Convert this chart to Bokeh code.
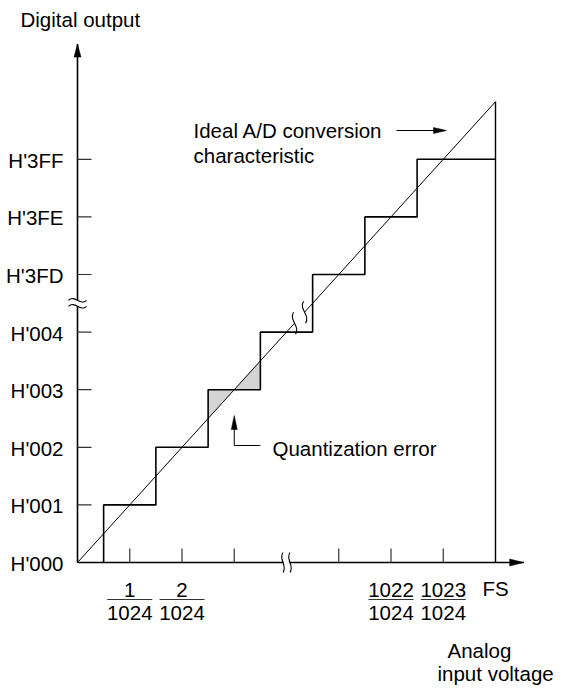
from bokeh.plotting import figure
from bokeh.models import Range1d
from bokeh.core.properties import value
from bokeh.embed import file_html
from bokeh.resources import INLINE

# ---------------- data ----------------
y_codes = ["H'000", "H'001", "H'002", "H'003", "H'004", "H'3FD", "H'3FE", "H'3FF"]
y_levels = [0, 1, 2, 3, 4, 5, 6, 7]
step_edges = [0.5, 1.5, 2.5, 3.5, 4.5, 5.5, 6.5]   # input where output code increments
x_ticks = [1, 2, 3, 5, 6, 7]
x_label_pos = [1, 2, 6, 7]
x_numerators = ["1", "2", "1022", "1023"]
x_denominator = "1024"
fs_pos = 8
fs_label = "FS"
err_level = 3          # step whose quantization error is shaded (H'003)
y_break = 4.5
x_break = 4.0
diag_break = 4.25

# ---------------- layout ----------------
W, H = 571, 691
UX, UY = 52.25, 57.6       # pixels per unit
OX, OY = 77, 562           # origin in figure pixels (from left, from top)
FONT = value("Liberation Sans")
FS = "20.5px"


def dx(p):
    return p / UX


def dy(p):
    return p / UY


def X(px_):
    return (px_ - OX) / UX


def Y(py_):
    return (OY - py_) / UY


p = figure(width=W, height=H, output_backend="svg", toolbar_location=None, tools="",
           x_range=Range1d(-OX / UX, (W - OX) / UX),
           y_range=Range1d(-(H - OY) / UY, OY / UY),
           min_border=0, x_axis_type=None, y_axis_type=None,
           outline_line_color=None, background_fill_color="white")

x_axis_end = 8.54
y_axis_end = 9.0
g = 3.0  # half gap in px for breaks

# axes (with breaks)
p.segment(x0=[0, 0], y0=[0, y_break + dy(g)], x1=[0, 0], y1=[y_break - dy(g), y_axis_end],
          line_color="black", line_width=1.6)
p.segment(x0=[0, x_break + dx(g)], y0=[0, 0], x1=[x_break - dx(g), x_axis_end], y1=[0, 0],
          line_color="black", line_width=1.6)
# arrow heads
p.patches(xs=[[0, -dx(3.5), dx(3.5)], [x_axis_end, x_axis_end - dx(14), x_axis_end - dx(14)]],
          ys=[[y_axis_end, y_axis_end - dy(13), y_axis_end - dy(13)], [0, dy(3.5), -dy(3.5)]],
          fill_color="black", line_color="black", line_width=0.5)

# ticks
p.segment(x0=[0] * len(y_levels[1:]), y0=y_levels[1:], x1=[dx(14)] * len(y_levels[1:]), y1=y_levels[1:],
          line_color="#333333", line_width=1.2)
p.segment(x0=x_ticks, y0=[0] * len(x_ticks), x1=x_ticks, y1=[dy(14)] * len(x_ticks),
          line_color="#333333", line_width=1.2)

# break marks on y axis (tildes)
for off in (-g, g):
    yb = y_break + dy(off)
    p.bezier(x0=[-dx(9)], y0=[yb], x1=[dx(9)], y1=[yb], cx0=[-dx(3)], cy0=[yb + dy(6)],
             cx1=[dx(3)], cy1=[yb - dy(6)], line_color="black", line_width=1.1)
# break marks on x axis
for off in (-3.5, 3.5):
    xb = x_break + dx(off)
    p.bezier(x0=[xb], y0=[-dy(10)], x1=[xb], y1=[dy(10)], cx0=[xb + dx(5)], cy0=[-dy(3)],
             cx1=[xb - dx(5)], cy1=[dy(3)], line_color="black", line_width=1.1)

# shaded quantization error
L = err_level
s = L - 0.5
p.patches(xs=[[s, s, L], [L, L + 0.5, L + 0.5]], ys=[[s, L, L], [L, L, L + 0.5]],
          fill_color="#d4d4d4", line_color=None)

# ideal characteristic (diagonal with break)
p.segment(x0=[0, diag_break + dx(5)], y0=[0, diag_break + dx(5)],
          x1=[diag_break - dx(5), fs_pos], y1=[diag_break - dx(5), fs_pos],
          line_color="black", line_width=1.0)
for off in (-5, 5):
    xb = diag_break + dx(off)
    yc = diag_break + dx(off)
    p.bezier(x0=[xb - dx(1)], y0=[yc + dy(11)], x1=[xb + dx(1)], y1=[yc - dy(11)],
             cx0=[xb - dx(6)], cy0=[yc + dy(3)], cx1=[xb + dx(6)], cy1=[yc - dy(3)],
             line_color="black", line_width=1.1)

# staircase
sx, sy = [], []
for e, lv in zip(step_edges, y_levels[1:]):
    sx += [e, e]
    sy += [lv - 1, lv]
sx.append(fs_pos)
sy.append(y_levels[-1])
p.line(sx, sy, line_color="black", line_width=1.6)
# full-scale vertical
p.segment(x0=[fs_pos], y0=[0], x1=[fs_pos], y1=[fs_pos], line_color="black", line_width=1.4)

# y tick labels
p.text(x=[0] * len(y_levels), y=y_levels, text=y_codes, x_offset=-14, y_offset=1,
       text_align="right", text_baseline="middle", text_font=FONT, text_font_size=FS,
       text_color="black")

# x fraction labels
p.text(x=x_label_pos, y=[0] * len(x_label_pos), text=x_numerators, y_offset=27,
       text_align="center", text_baseline="middle", text_font=FONT, text_font_size=FS,
       text_color="black")
p.text(x=x_label_pos, y=[0] * len(x_label_pos), text=[x_denominator] * len(x_label_pos), y_offset=50,
       text_align="center", text_baseline="middle", text_font=FONT, text_font_size=FS,
       text_color="black")
p.segment(x0=[v - dx(22.5) for v in x_label_pos], y0=[-dy(37)] * len(x_label_pos),
          x1=[v + dx(22.5) for v in x_label_pos], y1=[-dy(37)] * len(x_label_pos),
          line_color="#333333", line_width=1.2)
p.text(x=[fs_pos], y=[0], text=[fs_label], y_offset=26, text_align="center",
       text_baseline="middle", text_font=FONT, text_font_size=FS, text_color="black")

# annotation texts
p.text(x=[X(20)], y=[Y(19)], text=["Digital output"], text_align="left", text_baseline="middle",
       text_font=FONT, text_font_size=FS, text_color="black")
p.text(x=[X(193), X(193)], y=[Y(130), Y(155)], text=["Ideal A/D conversion", "characteristic"],
       text_align="left", text_baseline="middle", text_font=FONT, text_font_size=FS, text_color="black")
p.text(x=[X(272)], y=[Y(448)], text=["Quantization error"], text_align="left", text_baseline="middle",
       text_font=FONT, text_font_size=FS, text_color="black")
p.text(x=[X(447), X(437)], y=[Y(650), Y(673)], text=["Analog", "input voltage"],
       text_align="left", text_baseline="middle", text_font=FONT, text_font_size=FS, text_color="black")

# pointer arrows
ay = Y(130)
p.segment(x0=[X(396)], y0=[ay], x1=[X(434)], y1=[ay], line_color="black", line_width=1.0)
p.patches(xs=[[X(446), X(433), X(433)]], ys=[[ay, ay + dy(3), ay - dy(3)]],
          fill_color="black", line_color="black", line_width=0.5)

qy = Y(445)
p.line([L + 0.5, L, L], [qy, qy, Y(428)], line_color="black", line_width=1.0)
p.patches(xs=[[L, L - dx(3), L + dx(3)]], ys=[[Y(415), Y(429), Y(429)]],
          fill_color="black", line_color="black", line_width=0.5)

open("out.html", "w").write(file_html(p, INLINE))
